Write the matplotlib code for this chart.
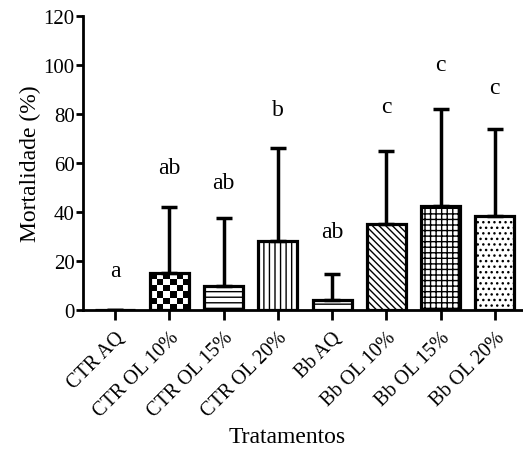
import numpy as np
import matplotlib.pyplot as plt

plt.rcParams['font.family'] = ['Liberation Serif', 'DejaVu Serif']
plt.rcParams['hatch.linewidth'] = 1.0

# data
tratamentos = ['CTR AQ', 'CTR OL 10%', 'CTR OL 15%', 'CTR OL 20%',
               'Bb AQ', 'Bb OL 10%', 'Bb OL 15%', 'Bb OL 20%']
mortalidade = [0, 15, 10, 28, 4, 35, 42.5, 38.5]
desvio = [0, 27, 27.5, 38, 10.5, 30, 39.5, 35.5]
letras = ['a', 'ab', 'ab', 'b', 'ab', 'c', 'c', 'c']
pos_letras = [16, 58, 52, 82, 32, 83, 100, 91]
hachuras = ['', '', '---', '|||', '--', '\\\\\\\\\\', '+++', '...']

fig = plt.figure(figsize=(5.23, 4.52), dpi=100)
ax = fig.add_axes([83 / 523, 1 - 311 / 452, 439 / 523, 294 / 452])

x = np.arange(len(tratamentos))
bars = ax.bar(x, mortalidade, width=0.72, color='white', edgecolor='black',
              linewidth=2.3, zorder=2)
for b, h in zip(bars, hachuras):
    b.set_hatch(h)

# checkerboard fill for the second bar
b = bars[1]
b.set_facecolor('none')
nx, ny = 6, 6
board = (np.add.outer(np.arange(ny), np.arange(nx)) % 2).astype(float)
im = ax.imshow(board, cmap='gray', extent=(b.get_x(), b.get_x() + b.get_width(),
                                           0, b.get_height()),
               aspect='auto', interpolation='nearest', zorder=1.5)
im.set_clip_path(b)

ax.errorbar(x, mortalidade, yerr=[np.zeros(len(x)), desvio], fmt='none',
            ecolor='black', elinewidth=2.5, capsize=6, capthick=2.5, zorder=3)

for xi, t, yl in zip(x, letras, pos_letras):
    ax.text(xi, yl, t, ha='center', va='center', fontsize=17)

ax.set_xlim(-0.59, 7.5)
ax.set_ylim(0, 120)
ax.set_yticks([0, 20, 40, 60, 80, 100, 120])
ax.set_xticks(x)
ax.set_xticklabels(tratamentos, rotation=45, ha='right', rotation_mode='anchor',
                   fontsize=14.5)
ax.tick_params(axis='y', labelsize=15, width=2, length=5, pad=1)
ax.tick_params(axis='x', width=2, length=7, pad=6)
for s in ['top', 'right']:
    ax.spines[s].set_visible(False)
for s in ['left', 'bottom']:
    ax.spines[s].set_linewidth(2)

ax.set_ylabel('Mortalidade (%)', fontsize=17, labelpad=2)
ax.set_xlabel('Tratamentos', fontsize=17)
ax.xaxis.set_label_coords(0.465, -0.395)

fig.savefig('out.png', dpi=100)
